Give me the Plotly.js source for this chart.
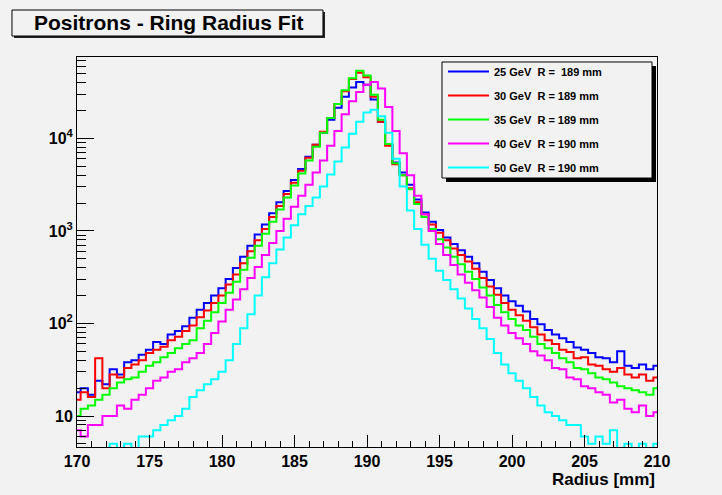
<!DOCTYPE html>
<html><head><meta charset="utf-8">
<script src="https://cdn.plot.ly/plotly-3.0.1.min.js"></script>
<style>html,body{margin:0;padding:0;background:#f2f2f2;} #chart{width:722px;height:495px;}</style>
</head><body><div id="chart"></div>
<script>
// Bin positions (mm)
const radius = [170,170.5,171,171.5,172,172.5,173,173.5,174,174.5,175,175.5,176,176.5,177,177.5,178,178.5,179,179.5,
  180,180.5,181,181.5,182,182.5,183,183.5,184,184.5,185,185.5,186,186.5,187,187.5,188,188.5,189,189.5,
  190,190.5,191,191.5,192,192.5,193,193.5,194,194.5,195,195.5,196,196.5,197,197.5,198,198.5,199,199.5,
  200,200.5,201,201.5,202,202.5,203,203.5,204,204.5,205,205.5,206,206.5,207,207.5,208,208.5,209,209.5,210];

const seriesNames = ['25 GeV  R =  189 mm','30 GeV  R = 189 mm','35 GeV  R = 189 mm','40 GeV  R = 190 mm','50 GeV  R = 190 mm'];
const seriesColors = ['#0000ff','#ff0000','#00ff00','#ff00ff','#00ffff'];

const counts25 = [18,20,17,24,22,32,28,38,40,46,
  52,63,60,76,83,93,115,141,166,200,
  240,302,398,525,692,912,1175,1549,2042,2692,
  3548,4677,6310,8511,11480,15850,21380,28180,35480,40740,
  38020,26300,15140,8511,5495,4266,3162,2188,1585,1259,
  1023,851,724,617,525,447,363,295,240,200,
  174,155,135,112,98,85,76,69,63,55,
  52,48,43,42,38,50,35,33,36,32,35];
const counts30 = [15,18,16,42,20,28,26,33,36,40,
  48,52,56,66,72,83,95,117,138,166,
  200,263,339,447,603,794,1047,1413,1862,2512,
  3311,4467,6166,8511,11750,16600,23440,32360,43650,51290,
  45710,28180,15140,8318,5248,3981,2884,2042,1514,1175,
  955,794,646,550,468,389,309,251,204,166,
  141,123,107,91,76,66,60,52,49,42,
  43,36,35,32,30,33,28,26,28,24,26];
const counts35 = [10,12,13,15,17,20,23,25,26,30,
  35,38,43,48,54,60,66,89,107,132,
  166,214,282,380,513,692,933,1259,1698,2291,
  3090,4169,5754,8128,11480,16600,23440,33110,44670,53700,
  47860,29510,15850,8710,5370,3981,2818,1950,1413,1047,
  813,661,525,437,363,302,245,200,158,132,
  112,95,85,72,60,54,48,42,38,33,
  32,29,26,25,23,21,20,19,18,17,20];
const counts40 = [7,6,8,8,10,10,13,12,15,17,
  20,24,26,30,32,38,42,48,60,79,
  105,141,182,234,309,407,550,741,1000,1349,
  1820,2399,3162,4266,5754,8318,12020,18200,25120,31620,
  38020,40740,34670,21880,12020,6918,3981,2399,1514,1000,
  724,550,427,339,275,229,191,151,115,95,
  79,69,60,50,45,40,33,32,26,25,
  21,20,18,17,14,15,12,11,13,10,11];
const counts50 = [3,4,3,4,3,5,4,5,4,6,
  6,7,8,9,10,12,16,19,22,25,
  30,40,60,89,126,200,316,447,631,851,
  1148,1514,1862,2291,3020,4074,5623,7943,11220,15140,
  19050,20420,17380,11480,6026,3020,1660,1047,708,501,
  372,295,234,186,145,112,89,68,48,36,
  29,24,20,16,13,11,10,9,8,8,
  6,5,6,5,7,4,5,4,5,4,5];

const xTickVals = [170,175,180,185,190,195,200,205,210];
const yTickVals = [10,100,1000,10000];
const yTickText = ['10','10<sup>2</sup>','10<sup>3</sup>','10<sup>4</sup>'];
const yMinorVals = [5,6,7,8,9,20,30,40,50,60,70,80,90,200,300,400,500,600,700,800,900,
  2000,3000,4000,5000,6000,7000,8000,9000,20000,30000,40000,50000,60000,70000];

const allCounts = [counts25,counts30,counts35,counts40,counts50];
const traces = allCounts.map((c,i)=>({
  x: radius, y: c, type:'scatter', mode:'lines',
  name: seriesNames[i], legendgroup: 'g'+i,
  line:{color: seriesColors[i], width:2, shape:'hvh'}
}));

const FONT = 'Liberation Sans, Arial, Helvetica, sans-serif';
const layout = {
  width:722, height:495,
  paper_bgcolor:'#f2f2f2', plot_bgcolor:'#f2f2f2',
  margin:{l:77, r:65, t:57, b:48, pad:0},
  font:{family:FONT, color:'#000'},
  showlegend:true,
  legend:{x:0.631, y:1.0, xanchor:'left', yanchor:'top', bgcolor:'rgba(0,0,0,0)', borderwidth:0,
    font:{family:FONT, size:11, weight:'bold', color:'#000'}, tracegroupgap:5, itemwidth:41},
  xaxis:{range:[170,210], tickmode:'array', tickvals:xTickVals, ticks:'inside', ticklen:12, tickwidth:1, tickcolor:'#000',
    minor:{ticks:'inside', ticklen:6, dtick:1, tick0:170, tickcolor:'#000', tickwidth:1},
    showline:true, linecolor:'#000', linewidth:1, mirror:true, showgrid:false, zeroline:false,
    tickfont:{family:FONT, size:16, weight:'bold', color:'#000'}},
  yaxis:{type:'log', range:[0.665,4.879], tickmode:'array', tickvals:yTickVals, ticktext:yTickText,
    ticks:'inside', ticklen:17, tickwidth:1, tickcolor:'#000',
    minor:{ticks:'inside', ticklen:9, tickvals:yMinorVals, tickcolor:'#000', tickwidth:1},
    showline:true, linecolor:'#000', linewidth:1, mirror:true, showgrid:false, zeroline:false,
    tickfont:{family:FONT, size:16, weight:'bold', color:'#000'}},
  shapes:[
    {type:'rect', xref:'paper', yref:'paper', x0:-0.1086, x1:0.4276, y0:1.0487, y1:1.1154, fillcolor:'#222', line:{width:0}},
    {type:'rect', xref:'paper', yref:'paper', x0:-0.1121, x1:0.4241, y0:1.0538, y1:1.1205, fillcolor:'#f2f2f2', line:{color:'#000', width:1}},
    {type:'rect', xref:'paper', yref:'paper', layer:'above', x0:0.6362, x1:0.9983, y0:0.6795, y1:0.9769, fillcolor:'#000', line:{width:0}},
    {type:'rect', xref:'paper', yref:'paper', layer:'above', x0:0.6293, x1:0.9914, y0:0.6897, y1:0.9872, fillcolor:'#f2f2f2', line:{color:'#000', width:1}}
  ],
  annotations:[
    {text:'Positrons - Ring Radius Fit', xref:'paper', yref:'paper', x:0.1586, y:1.0872, xanchor:'center', yanchor:'middle',
      showarrow:false, font:{family:FONT, size:21, weight:'bold', color:'#000'}},
    {text:'Radius [mm]', xref:'paper', yref:'paper', x:1.0, y:-0.0846, xanchor:'right', yanchor:'middle',
      showarrow:false, font:{family:FONT, size:17, weight:'bold', color:'#000'}}
  ]
};
Plotly.newPlot('chart', traces, layout, {displayModeBar:false, staticPlot:true});
</script></body></html>
